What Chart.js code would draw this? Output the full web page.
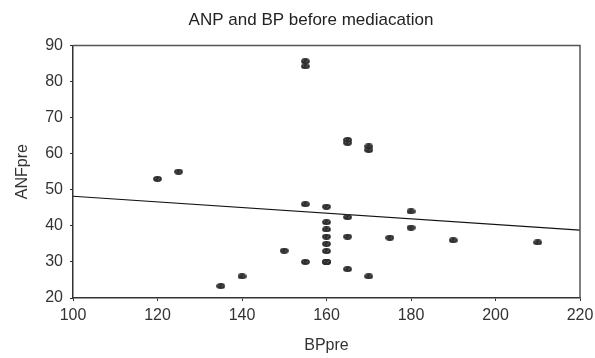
<!DOCTYPE html>
<html>
<head>
<meta charset="utf-8">
<script src="https://cdn.jsdelivr.net/npm/chart.js@4.4.0/dist/chart.umd.min.js"></script>
<style>
  html, body { margin: 0; padding: 0; background: #fff; }
  #wrap { width: 595px; height: 358px; }
</style>
</head>
<body>
<div id="wrap"><canvas id="c" width="595" height="358"></canvas></div>
<script>
// Data
const bpPre  = [120,125,135,140,150,155,155,155,155,160,160,160,160,160,160,160,160,160,165,165,165,165,165,170,170,170,175,180,180,190,210];
const anfPre = [53,55,23.3,26,33.1,85.6,84.2,46,30,45.3,41,39,37,35,33,30,30,30,63.8,63,42.4,37,28,62,61,26,36.7,44,39.5,36,35.4];
// Fit line end points
const fitX = [100, 220];
const fitY = [48.2, 38.8];
const xTicks = [100,120,140,160,180,200,220];
const yTicks = [20,30,40,50,60,70,80,90];

const FONT = "'Liberation Sans', Arial, sans-serif";

// marker: small dark ellipse
const mk = document.createElement('canvas');
mk.width = 9; mk.height = 6;
(function(){
  const g = mk.getContext('2d');
  g.fillStyle = '#2e2e2e';
  g.beginPath();
  g.ellipse(4.5, 3, 4.4, 2.9, 0, 0, Math.PI*2);
  g.fill();
  g.fillStyle = 'rgba(255,255,255,0.25)';
  g.fillRect(2,2,1,1); g.fillRect(5,3,1,1); g.fillRect(6,2,1,1);
})();

const frame = {
  id: 'frame',
  afterLayout(chart) {
    const t = chart.titleBlock;
    if (t) { t.left += 21; t.right += 21; }
  },
  afterDatasetsDraw(chart) {
    const {ctx, chartArea: a} = chart;
    ctx.save();
    ctx.strokeStyle = '#555';
    ctx.lineWidth = 1.5;
    ctx.beginPath();
    ctx.moveTo(a.left, a.top);
    ctx.lineTo(a.right, a.top);
    ctx.lineTo(a.right, a.bottom);
    ctx.stroke();
    ctx.restore();
  }
};

new Chart(document.getElementById('c'), {
  type: 'scatter',
  data: {
    datasets: [
      {
        type: 'scatter',
        data: bpPre.map((x, i) => ({x, y: anfPre[i]})),
        pointStyle: mk,
        pointRadius: 4,
        pointHoverRadius: 4
      },
      {
        type: 'line',
        data: fitX.map((x, i) => ({x, y: fitY[i]})),
        borderColor: '#111',
        borderWidth: 1.2,
        pointRadius: 0,
        fill: false
      }
    ]
  },
  plugins: [frame],
  options: {
    responsive: false,
    animation: false,
    layout: { padding: { left: 0, right: 15, top: 0, bottom: 0 } },
    plugins: {
      legend: { display: false },
      tooltip: { enabled: false },
      title: {
        display: true,
        text: 'ANP and BP before mediacation',
        color: '#222',
        font: { family: FONT, size: 17, weight: 'normal' },
        padding: { top: 10, bottom: 15 }
      }
    },
    scales: {
      x: {
        type: 'linear',
        min: 100, max: 220,
        afterBuildTicks: s => { s.ticks = xTicks.map(v => ({value: v})); },
        afterFit: s => { s.height = 60; s.paddingRight = 2; s.paddingLeft = 2; },
        grid: { display: true, drawOnChartArea: false, drawTicks: true, tickLength: 3, color: '#333' },
        border: { display: true, color: '#333', width: 1.5 },
        ticks: { color: '#333', font: { family: FONT, size: 16 }, padding: 5, maxRotation: 0 },
        title: {
          display: true, text: 'BPpre', color: '#333',
          font: { family: FONT, size: 16 },
          padding: { top: 0, bottom: 3 }
        }
      },
      y: {
        type: 'linear',
        min: 20, max: 90,
        afterBuildTicks: s => { s.ticks = yTicks.map(v => ({value: v})); },
        afterFit: s => { s.width = 73; },
        grid: { display: true, drawOnChartArea: false, drawTicks: true, tickLength: 3, color: '#333' },
        border: { display: true, color: '#333', width: 1.5 },
        ticks: { color: '#333', font: { family: FONT, size: 16 }, padding: 7 },
        title: {
          display: true, text: 'ANFpre', color: '#333',
          font: { family: FONT, size: 16 },
          padding: { top: 13, bottom: 0 }
        }
      }
    }
  }
});
</script>
</body>
</html>
